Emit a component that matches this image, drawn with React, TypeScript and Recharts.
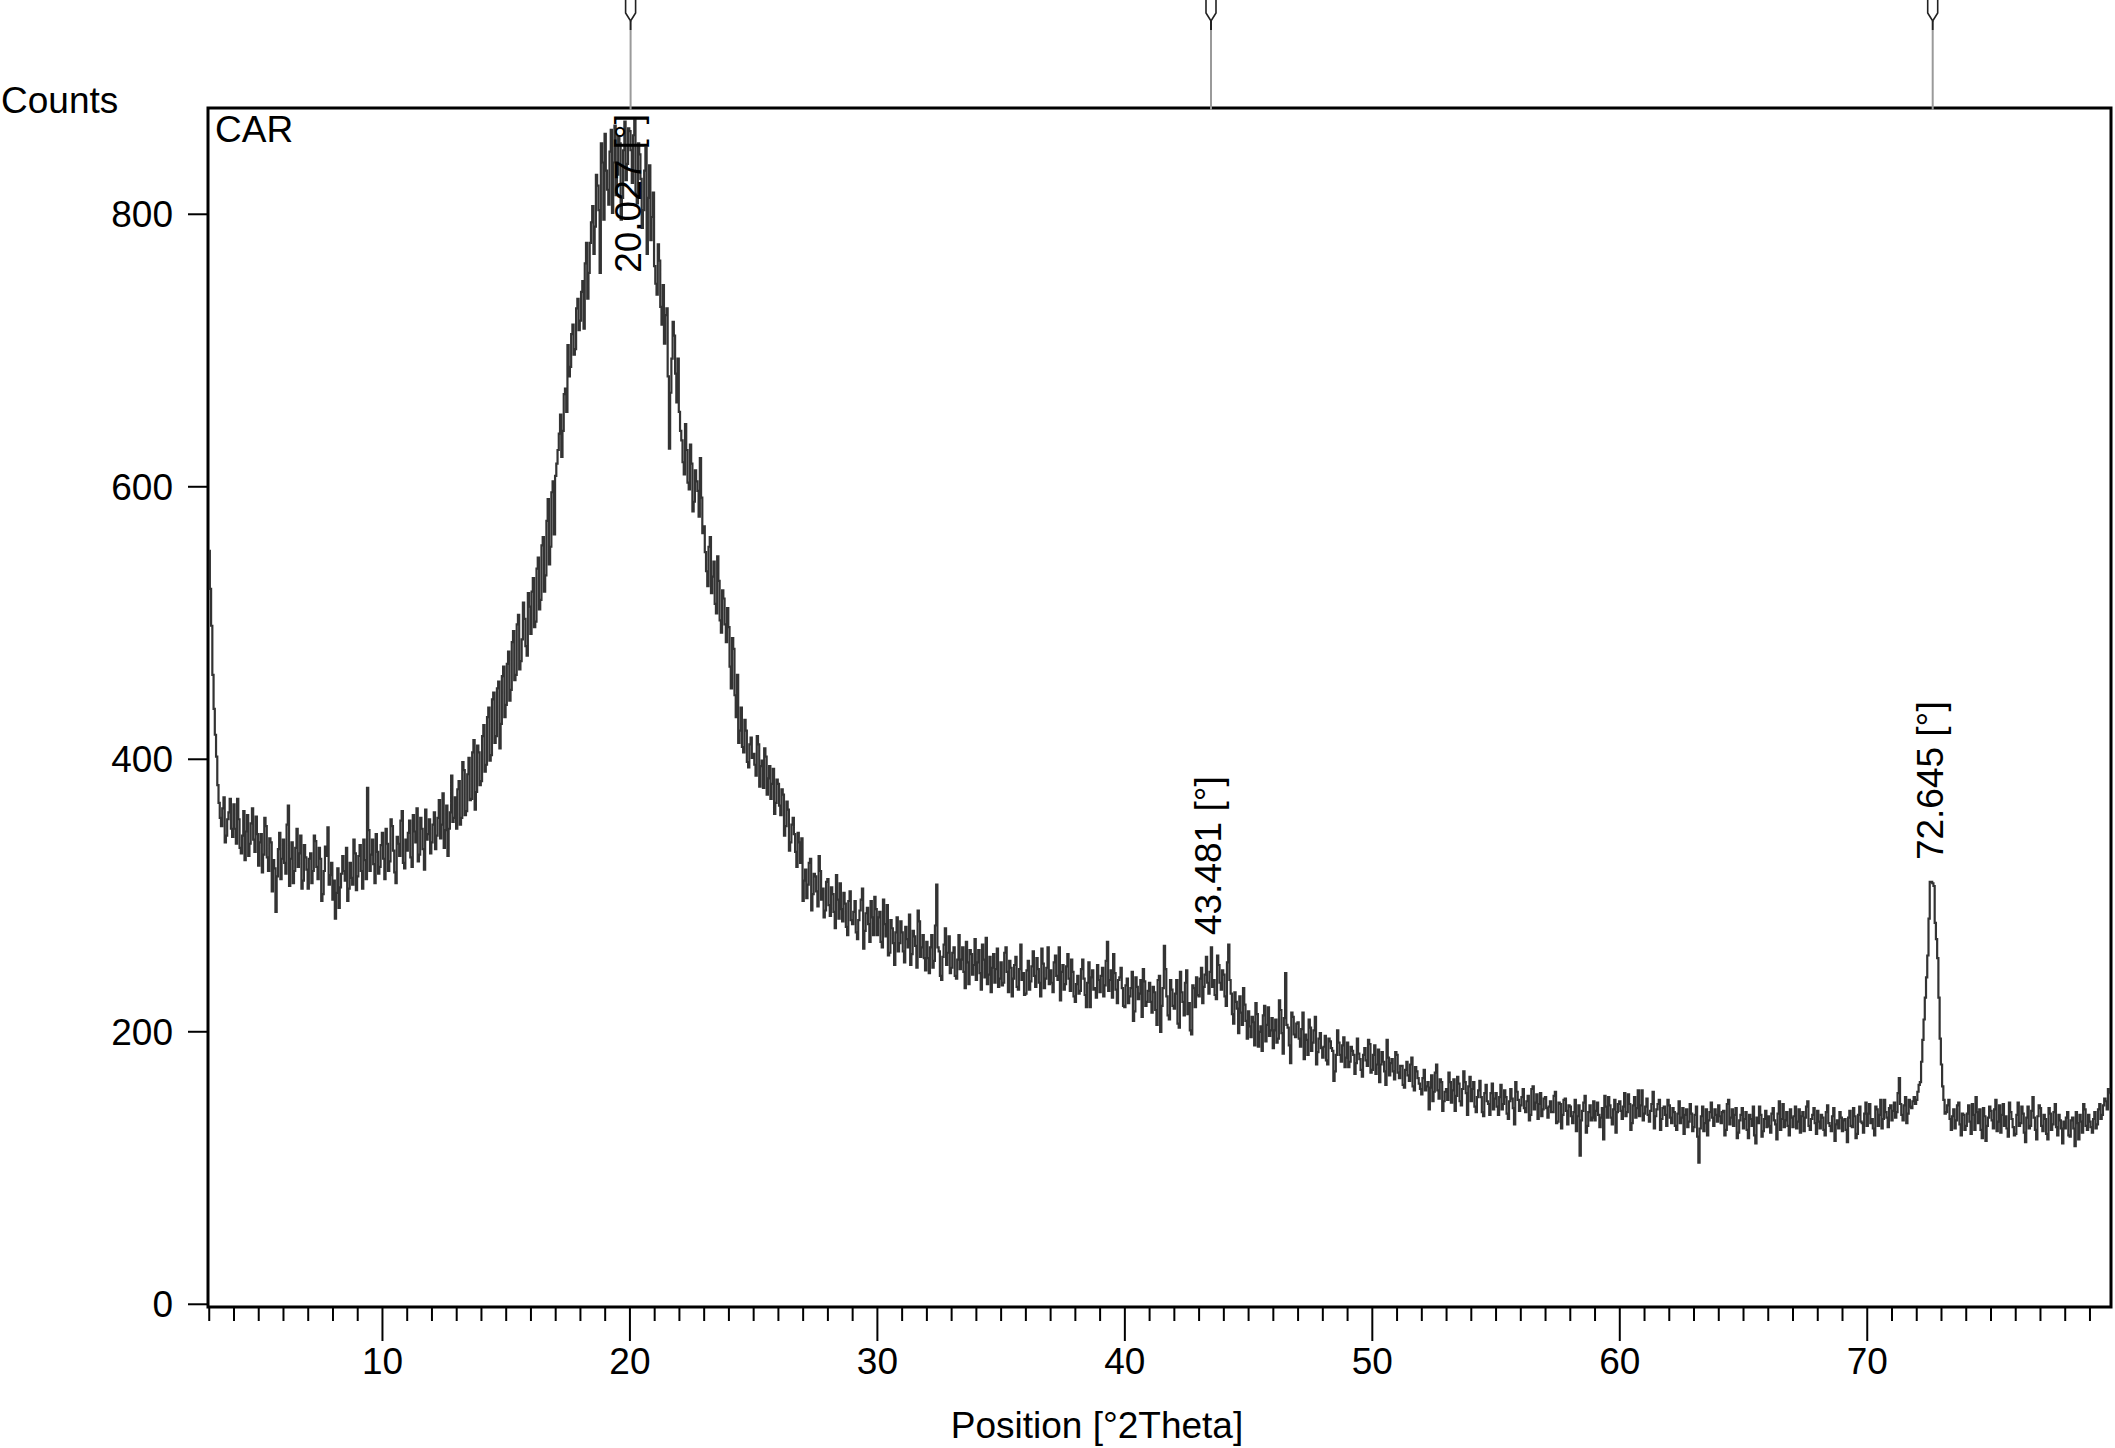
import React from 'react';
import { LineChart, Line, XAxis, YAxis, ReferenceArea, ReferenceLine, ReferenceDot } from 'recharts';

const FONT = '"Liberation Sans", Arial, Helvetica, sans-serif';

// scan definition: 3.00 .. 79.80 °2Theta, 0.05° step
// `counts` holds the readings at x.0, x.1 ... ; `countsMid` those at x.05, x.15 ...
const START_DEG = 3.0;
const STEP_DEG = 0.1;

const counts: number[] = [
  553, 498, 437, 402, 368, 351, 372, 344, 361, 349,
  367, 338, 356, 331, 362, 347, 329, 353, 341, 358,
  322, 345, 330, 351, 318, 339, 326, 288, 334, 312,
  341, 316, 366, 327, 309, 335, 321, 344, 311, 328,
  305, 331, 318, 340, 312, 327, 301, 336, 350, 315,
  297, 283, 320, 306, 329, 311, 296, 324, 308, 331,
  314, 337, 305, 326, 379, 318, 341, 309, 332, 321,
  346, 312, 338, 325, 351, 317, 343, 329, 362, 320,
  333, 355, 321, 347, 364, 330, 349, 319, 341, 356,
  339, 361, 344, 370, 352, 335, 366, 349, 388, 357,
  349, 384, 357, 392, 362, 401, 371, 414, 376, 405,
  384, 425, 396, 438, 403, 449, 417, 457, 426, 468,
  440, 479, 451, 494, 462, 506, 472, 515, 483, 522,
  492, 533, 501, 548, 517, 563, 535, 591, 556, 604,
  608, 627, 653, 641, 672, 704, 688, 719, 701, 738,
  722, 751, 764, 738, 779, 806, 791, 821, 757, 838,
  859, 818, 846, 801, 865, 829, 852, 812, 868, 837,
  861, 823, 869, 808, 844, 790, 832, 771, 836, 798,
  762, 741, 766, 719, 705, 731, 628, 694, 711, 662,
  655, 634, 609, 627, 598, 617, 589, 604, 578, 592,
  571, 538, 556, 522, 545, 507, 531, 493, 518, 486,
  497, 452, 481, 431, 412, 438, 405, 421, 394, 416,
  404, 388, 411, 395, 379, 402, 386, 371, 393, 368,
  382, 359, 374, 351, 363, 339, 357, 332, 346, 324,
  296, 319, 308, 327, 301, 314, 292, 318, 305, 289,
  312, 285, 301, 276, 297, 309, 281, 294, 271, 303,
  279, 296, 268, 289, 305, 274, 291, 266, 284, 299,
  271, 288, 262, 279, 293, 258, 276, 249, 284, 265,
  273, 251, 268, 286, 257, 270, 247, 281, 262, 254,
  266, 243, 271, 252, 308, 259, 238, 264, 249, 270,
  247, 262, 239, 271, 253, 244, 266, 235, 257, 249,
  238, 260, 231, 253, 269, 242, 229, 257, 246, 233,
  251, 236, 262, 229, 247, 239, 255, 231, 264, 243,
  228, 252, 237, 259, 233, 246, 226, 250, 239, 262,
  245, 229, 256, 238, 223, 249, 235, 257, 230, 244,
  222, 241, 230, 253, 227, 236, 218, 245, 232, 249,
  229, 247, 234, 266, 238, 225, 243, 221, 240, 232,
  218, 239, 226, 244, 215, 233, 228, 211, 237, 222,
  236, 214, 229, 205, 241, 219, 263, 226, 209, 231,
  217, 238, 203, 229, 212, 245, 221, 198, 232, 240,
  226, 247, 233, 255, 228, 262, 238, 224, 249, 231,
  242, 219, 264, 228, 206, 222, 199, 214, 232, 208,
  215, 196, 207, 221, 189, 204, 212, 193, 218, 201,
  188, 209, 195, 216, 184, 243, 203, 177, 211, 196,
  207, 189, 214, 198, 183, 203, 192, 211, 185, 199,
  181, 197, 176, 193, 186, 171, 201, 183, 190, 174,
  192, 178, 186, 169, 195, 180, 167, 188, 175, 191,
  172, 190, 176, 163, 185, 171, 194, 168, 180, 165,
  183, 166, 175, 159, 178, 164, 181, 157, 171, 162,
  154, 172, 160, 143, 168, 156, 176, 151, 163, 149,
  158, 170, 148, 165, 153, 162, 146, 171, 155, 160,
  149, 163, 141, 157, 152, 138, 161, 147, 155, 143,
  155, 139, 161, 147, 152, 136, 158, 144, 163, 150,
  146, 158, 141, 153, 139, 160, 148, 136, 155, 143,
  152, 137, 149, 141, 156, 134, 147, 139, 151, 132,
  145, 133, 150, 138, 109, 142, 153, 131, 146, 137,
  135, 148, 130, 144, 153, 137, 146, 132, 150, 141,
  149, 136, 155, 141, 147, 133, 152, 144, 138, 157,
  140, 151, 134, 147, 129, 143, 150, 136, 145, 131,
  146, 133, 141, 128, 149, 137, 125, 143, 134, 140,
  130, 145, 104, 138, 127, 143, 135, 148, 131, 139,
  146, 133, 142, 128, 150, 137, 131, 144, 126, 139,
  129, 141, 122, 136, 145, 118, 133, 139, 127, 142,
  138, 126, 144, 132, 140, 128, 147, 135, 131, 143,
  130, 145, 134, 126, 141, 137, 149, 128, 139, 133,
  142, 129, 137, 124, 146, 131, 138, 120, 135, 141,
  127, 136, 119, 142, 130, 138, 125, 145, 133, 140,
  131, 147, 136, 124, 143, 139, 129, 150, 137, 144,
  135, 148, 141, 166, 139, 146, 133, 150, 144, 152,
  150, 161, 178, 209, 240, 283, 310, 307, 268, 225,
  176, 150, 141, 150, 128, 143, 135, 148, 124, 139,
  131, 146, 125, 139, 152, 133, 128, 144, 120, 137,
  142, 129, 150, 134, 126, 147, 138, 123, 141, 130,
  125, 148, 133, 140, 119, 145, 131, 152, 128, 138,
  144, 127, 136, 121, 140, 132, 147, 124, 135, 118,
  129, 141, 123, 137, 116, 133, 139, 126, 143, 128,
  134, 126, 141, 132, 147, 139, 151, 143, 155,
];

const countsMid: number[] = [
  525, 462, 418, 381, 357, 364, 339, 356, 371, 343,
  349, 371, 335, 344, 326, 359, 338, 364, 332, 345,
  339, 317, 357, 328, 342, 303, 320, 314, 346, 327,
  324, 352, 307, 339, 318, 349, 331, 305, 337, 319,
  327, 309, 344, 321, 335, 296, 318, 329, 308, 324,
  311, 302, 291, 316, 318, 335, 305, 313, 341, 304,
  329, 318, 341, 312, 348, 330, 323, 345, 316, 337,
  327, 349, 318, 356, 333, 309, 338, 355, 324, 341,
  346, 328, 359, 339, 325, 357, 334, 363, 345, 331,
  352, 334, 357, 342, 375, 348, 329, 361, 354, 372,
  378, 352, 398, 359, 389, 370, 405, 363, 410, 381,
  417, 391, 431, 399, 444, 412, 452, 408, 461, 431,
  470, 443, 486, 458, 499, 466, 488, 503, 476, 512,
  523, 497, 540, 510, 557, 523, 575, 543, 596, 565,
  617, 639, 622, 668, 655, 681, 712, 697, 731, 715,
  743, 716, 779, 757, 794, 771, 829, 803, 852, 796,
  832, 807, 862, 838, 814, 857, 796, 847, 825, 863,
  847, 858, 815, 852, 826, 803, 849, 812, 781, 816,
  749, 778, 732, 748, 726, 681, 669, 721, 683, 694,
  641, 618, 646, 603, 631, 582, 612, 597, 621, 566,
  552, 527, 563, 534, 514, 549, 502, 524, 499, 511,
  468, 489, 447, 462, 421, 409, 429, 398, 411, 401,
  396, 417, 380, 399, 408, 374, 395, 382, 360, 385,
  366, 378, 344, 369, 333, 352, 345, 321, 339, 342,
  311, 298, 324, 289, 316, 303, 329, 297, 284, 310,
  293, 306, 288, 315, 283, 290, 302, 277, 296, 282,
  288, 273, 282, 297, 261, 287, 279, 296, 271, 290,
  284, 266, 297, 270, 256, 282, 265, 273, 259, 281,
  259, 277, 262, 249, 274, 263, 289, 255, 271, 245,
  254, 262, 247, 278, 262, 241, 255, 276, 258, 243,
  258, 241, 253, 246, 262, 232, 251, 260, 242, 268,
  251, 243, 264, 240, 235, 255, 247, 236, 261, 239,
  234, 258, 244, 252, 226, 249, 233, 246, 238, 227,
  245, 231, 248, 241, 254, 236, 261, 232, 247, 235,
  236, 251, 241, 262, 244, 231, 248, 239, 253, 226,
  235, 228, 246, 239, 218, 251, 240, 231, 225, 238,
  241, 226, 252, 230, 245, 257, 231, 238, 247, 219,
  234, 221, 232, 208, 240, 224, 238, 246, 219, 230,
  222, 233, 216, 238, 200, 232, 246, 212, 238, 219,
  228, 206, 244, 222, 236, 213, 201, 234, 218, 227,
  239, 221, 242, 236, 244, 233, 227, 256, 236, 245,
  226, 251, 238, 213, 229, 217, 226, 205, 220, 195,
  204, 211, 190, 213, 200, 186, 219, 205, 197, 210,
  201, 192, 223, 199, 210, 205, 190, 214, 198, 206,
  195, 202, 180, 194, 209, 186, 201, 176, 195, 188,
  189, 179, 195, 188, 164, 183, 192, 178, 196, 181,
  174, 189, 183, 177, 184, 172, 183, 179, 194, 170,
  183, 169, 187, 176, 178, 161, 181, 177, 171, 185,
  170, 175, 161, 172, 168, 176, 160, 174, 166, 158,
  166, 157, 163, 159, 149, 170, 157, 165, 142, 156,
  150, 163, 157, 142, 167, 149, 158, 163, 139, 167,
  158, 145, 152, 164, 141, 155, 149, 139, 162, 151,
  145, 152, 143, 157, 140, 149, 151, 132, 156, 142,
  152, 144, 149, 135, 158, 143, 154, 147, 138, 151,
  144, 145, 141, 153, 133, 148, 129, 150, 142, 146,
  138, 141, 127, 146, 135, 148, 126, 141, 135, 149,
  142, 139, 137, 121, 145, 152, 137, 143, 126, 147,
  142, 145, 138, 154, 128, 146, 137, 157, 146, 135,
  145, 139, 142, 156, 138, 147, 128, 144, 139, 150,
  137, 144, 131, 140, 133, 144, 139, 130, 147, 127,
  139, 123, 129, 145, 133, 124, 141, 137, 143, 134,
  138, 141, 124, 147, 132, 143, 139, 122, 135, 144,
  136, 128, 139, 131, 124, 137, 145, 123, 136, 130,
  131, 140, 135, 121, 149, 136, 130, 141, 124, 137,
  138, 129, 143, 138, 127, 145, 131, 136, 144, 125,
  134, 139, 128, 141, 133, 127, 144, 132, 129, 137,
  135, 128, 137, 131, 144, 122, 139, 134, 126, 148,
  140, 133, 129, 145, 131, 150, 136, 141, 130, 146,
  142, 137, 155, 147, 135, 152, 140, 145, 149, 147,
  156, 163, 194, 225, 256, 310, 309, 280, 254, 195,
  160, 140, 146, 136, 138, 129, 146, 132, 140, 128,
  140, 134, 147, 128, 141, 143, 122, 138, 131, 145,
  135, 143, 127, 146, 139, 131, 129, 148, 136, 124,
  139, 131, 145, 126, 137, 129, 142, 137, 121, 146,
  131, 139, 125, 144, 128, 141, 130, 139, 129, 134,
  137, 124, 135, 129, 141, 121, 134, 147, 131, 139,
  130, 136, 129, 143, 136, 146, 149, 158,
];

const xTicks = [
  3, 4, 5, 6, 7, 8, 9, 10, 11, 12, 13, 14, 15, 16, 17, 18, 19, 20, 21, 22,
  23, 24, 25, 26, 27, 28, 29, 30, 31, 32, 33, 34, 35, 36, 37, 38, 39, 40, 41, 42,
  43, 44, 45, 46, 47, 48, 49, 50, 51, 52, 53, 54, 55, 56, 57, 58, 59, 60, 61, 62,
  63, 64, 65, 66, 67, 68, 69, 70, 71, 72, 73, 74, 75, 76, 77, 78, 79,
];
const xLabels = [10, 20, 30, 40, 50, 60, 70];
const yTicks = [0, 200, 400, 600, 800];

const peakPositions = [20.027, 43.481, 72.645];
const peakLabels = ['20.027 [°]', '43.481 [°]', '72.645 [°]'];
const peakLabelCounts = [757, 271, 326];

const X_DOMAIN: [number, number] = [2.95, 79.85];
const Y_DOMAIN: [number, number] = [-2, 878];

const round2 = (v: number) => Math.round(v * 100) / 100;

const data: { x: number; c: number }[] = [];
counts.forEach((c, i) => {
  const x = START_DEG + i * STEP_DEG;
  data.push({ x: round2(x), c });
  if (i < countsMid.length) data.push({ x: round2(x + STEP_DEG / 2), c: countsMid[i] });
});

const XTick = (props: any) => {
  const { x, y, payload } = props;
  const v = payload.value;
  const major = xLabels.includes(v);
  return (
    <g>
      <line x1={x} x2={x} y1={y} y2={y + (major ? 34 : 14)} stroke="#000" strokeWidth={2} />
      {major && (
        <text x={x} y={y + 67} textAnchor="middle" fontSize={37} fontFamily={FONT} fill="#000">
          {v}
        </text>
      )}
    </g>
  );
};

const PeakMarker = (props: any) => {
  const x = props.x1;
  const top = Math.min(props.y1, props.y2);
  return (
    <g>
      <line x1={x} x2={x} y1={top + 2} y2={top - 78} stroke="#9a9a9a" strokeWidth={2} />
      <line x1={x} x2={x} y1={top - 78} y2={top - 87} stroke="#222" strokeWidth={2} />
      <polyline
        points={`${x - 5},${top - 108} ${x - 5},${top - 95} ${x},${top - 87} ${x + 5},${top - 95} ${x + 5},${top - 108}`}
        fill="none"
        stroke="#222"
        strokeWidth={1.6}
      />
    </g>
  );
};

const makePeakLabel = (text: string) => (props: any) => {
  const bx = props.cx + 10;
  const by = props.cy;
  return (
    <text
      x={bx}
      y={by}
      transform={`rotate(-90 ${bx} ${by})`}
      fontSize={37}
      fontFamily={FONT}
      fill="#000"
      textAnchor="start"
    >
      {text}
    </text>
  );
};

export default function App() {
  return (
    <div style={{ position: 'absolute', left: 0, top: 0, width: 2115, height: 1448, background: '#fff' }}>
      <LineChart width={2115} height={1448} data={data} margin={{ top: 108, right: 4, bottom: 0, left: 0 }}>
        <XAxis
          type="number"
          dataKey="x"
          domain={X_DOMAIN}
          allowDataOverflow
          ticks={xTicks}
          interval={0}
          tick={<XTick />}
          tickLine={false}
          axisLine={false}
          tickSize={0}
          tickMargin={0}
          height={141}
        />
        <YAxis
          type="number"
          domain={Y_DOMAIN}
          allowDataOverflow
          ticks={yTicks}
          interval={0}
          width={208}
          tickSize={20}
          tickMargin={15}
          axisLine={false}
          tickLine={{ stroke: '#000', strokeWidth: 2 }}
          tick={{ fontSize: 37, fill: '#000', fontFamily: FONT }}
        />
        <Line
          type="step"
          dataKey="c"
          stroke="#333333"
          strokeWidth={2.2}
          dot={false}
          activeDot={false}
          isAnimationActive={false}
        />
        <ReferenceArea
          x1={X_DOMAIN[0]}
          x2={X_DOMAIN[1]}
          y1={Y_DOMAIN[0]}
          y2={Y_DOMAIN[1]}
          fill="none"
          fillOpacity={0}
          stroke="#000"
          strokeWidth={3}
          ifOverflow="visible"
        />
        {peakPositions.map((p) => (
          <ReferenceLine key={`pl-${p}`} x={p} ifOverflow="visible" shape={PeakMarker} />
        ))}
        {peakPositions.map((p, i) => (
          <ReferenceDot
            key={`pd-${p}`}
            x={p}
            y={peakLabelCounts[i]}
            r={0}
            ifOverflow="visible"
            shape={makePeakLabel(peakLabels[i])}
          />
        ))}
      </LineChart>
      <svg
        width={2115}
        height={1448}
        style={{ position: 'absolute', left: 0, top: 0, pointerEvents: 'none' }}
      >
        <text x={1} y={113} fontSize={37} fontFamily={FONT} fill="#000">Counts</text>
        <text x={215} y={142} fontSize={37} fontFamily={FONT} fill="#000">CAR</text>
        <text x={1097} y={1438} fontSize={37} fontFamily={FONT} fill="#000" textAnchor="middle">
          Position [°2Theta]
        </text>
      </svg>
    </div>
  );
}
